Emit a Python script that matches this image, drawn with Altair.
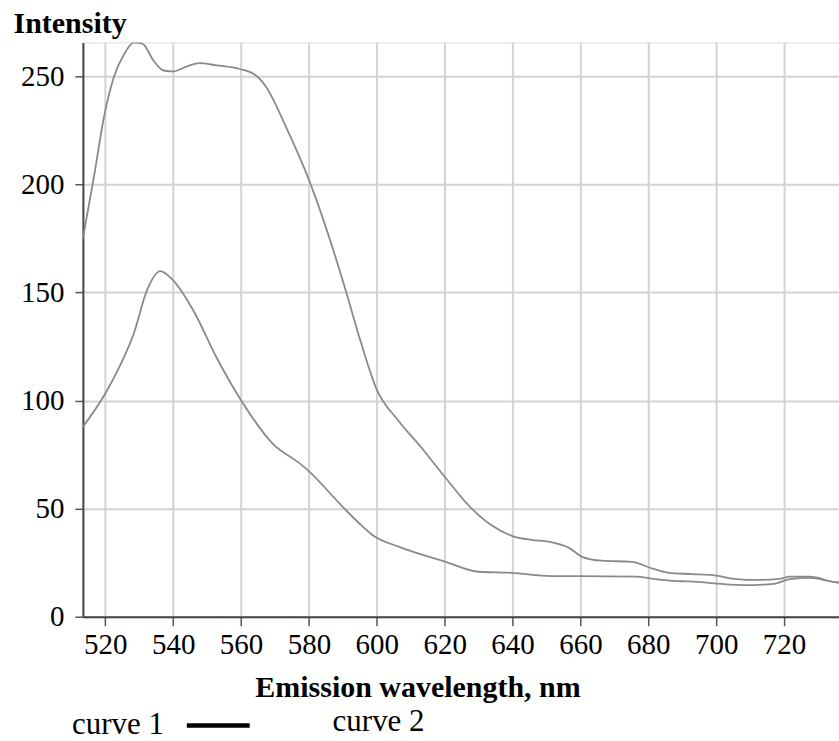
import altair as alt
import pandas as pd

# Emission spectra: wavelength (nm) and intensity for each curve
wl_1 = [513.4, 516.6, 519.6, 522.5, 525.5, 528.4, 530.9, 534.3, 537.2, 540.0,
        543.9, 547.8, 552.7, 559.6, 564.5, 567.4, 573.3, 580.1, 587.5, 591.0,
        595.3, 600.0, 606.2, 613.0, 620.0, 627.9, 633.7, 640.0, 645.6, 650.9,
        656.9, 660.5, 666.3, 675.1, 681.0, 686.0, 693.0, 700.0, 706.0, 712.0,
        718.5, 721.7, 727.6, 735.0, 736.2]
int_1 = [175.0, 203.0, 231.0, 249.5, 260.0, 265.5, 265.0, 257.0, 252.6, 252.2,
         254.4, 256.0, 255.0, 253.3, 250.2, 245.0, 226.3, 201.7, 168.0, 150.0,
         127.0, 105.0, 91.0, 78.5, 64.7, 50.1, 42.4, 37.3, 35.5, 34.6,
         31.6, 27.7, 25.9, 25.4, 22.4, 20.3, 19.7, 19.0, 17.4, 17.0,
         17.5, 18.5, 18.5, 16.0, 15.8]

wl_2 = [513.4, 520.0, 524.4, 528.4, 532.3, 536.2, 540.0, 545.9, 552.7, 560.0,
        569.3, 577.3, 580.2, 589.0, 594.9, 598.8, 606.6, 620.3, 630.0, 639.8,
        651.5, 659.3, 676.6, 680.6, 687.3, 692.0, 707.9, 717.0, 721.7, 727.6,
        735.0, 736.2]
int_2 = [87.8, 103.2, 116.3, 131.0, 151.0, 159.8, 155.5, 141.7, 120.1, 100.1,
         80.1, 70.9, 67.0, 52.4, 43.1, 37.7, 32.3, 25.4, 20.8, 20.3,
         18.8, 18.8, 18.5, 17.7, 16.6, 16.3, 14.6, 15.2, 17.4, 18.0,
         16.0, 15.8]

series_names = ["curve 1", "curve 2"]
x_ticks = [520, 540, 560, 580, 600, 620, 640, 660, 680, 700, 720]
y_ticks = [0, 50, 100, 150, 200, 250]

spectra = pd.concat([
    pd.DataFrame({"wavelength": wl_1, "intensity": int_1, "curve": series_names[0]}),
    pd.DataFrame({"wavelength": wl_2, "intensity": int_2, "curve": series_names[1]}),
])

SERIF = "Liberation Serif"

x_enc = alt.X(
    "wavelength:Q",
    scale=alt.Scale(domain=[513.4, 736.2], nice=False, zero=False),
    axis=alt.Axis(
        values=x_ticks, title="Emission wavelength, nm",
        titleX=335, titleY=80, titleBaseline="alphabetic",
        titleFont=SERIF, titleFontSize=30, titleFontWeight="bold", titleColor="black",
        labelFont=SERIF, labelFontSize=29, labelColor="black", labelPadding=5,
        labelOverlap=False, labelFlush=False,
        tickSize=9, tickColor="#555555", tickWidth=1.5,
        domainColor="#444444", domainWidth=2,
        gridColor="#d3d3d3", gridWidth=2,
    ),
)
y_enc = alt.Y(
    "intensity:Q",
    scale=alt.Scale(domain=[0, 265.6], nice=False),
    axis=alt.Axis(
        values=y_ticks, title="Intensity",
        titleAngle=0, titleX=-70, titleY=-10, titleAlign="left",
        titleBaseline="alphabetic",
        titleFont=SERIF, titleFontSize=30, titleFontWeight="bold", titleColor="black",
        labelFont=SERIF, labelFontSize=29, labelColor="black", labelPadding=11,
        labelOverlap=False,
        tickSize=8, tickColor="#555555", tickWidth=1.5,
        domainColor="#444444", domainWidth=2,
        gridColor="#d3d3d3", gridWidth=2,
    ),
)

lines = alt.Chart(spectra).mark_line(
    color="#8a8a8a", strokeWidth=1.8, interpolate="monotone", clip=True
).encode(x=x_enc, y=y_enc, detail="curve:N")

# Hand-drawn legend below the axis title
legend_1 = alt.Chart(alt.Data(values=[{"s": series_names[0]}])).mark_text(
    font=SERIF, fontSize=31, align="left", baseline="alphabetic", color="black"
).encode(x=alt.value(-11), y=alt.value(692), text="s:N")
legend_swatch = alt.Chart(alt.Data(values=[{"s": series_names[0]}])).mark_rule(
    color="black", strokeWidth=4.5
).encode(x=alt.value(104), x2=alt.value(167), y=alt.value(684))
legend_2 = alt.Chart(alt.Data(values=[{"s": series_names[1]}])).mark_text(
    font=SERIF, fontSize=31, align="left", baseline="alphabetic", color="black"
).encode(x=alt.value(250), y=alt.value(689), text="s:N")

chart = alt.layer(lines, legend_1, legend_swatch, legend_2).properties(
    width=757,
    height=575,
    autosize=alt.AutoSizeParams(type="none"),
    padding={"left": 83, "top": 42, "right": 0, "bottom": 124},
).configure_view(
    stroke="#d3d3d3", strokeWidth=2
).configure(background="white")

chart.save("out.html", embed_options={"renderer": "svg", "actions": False})
